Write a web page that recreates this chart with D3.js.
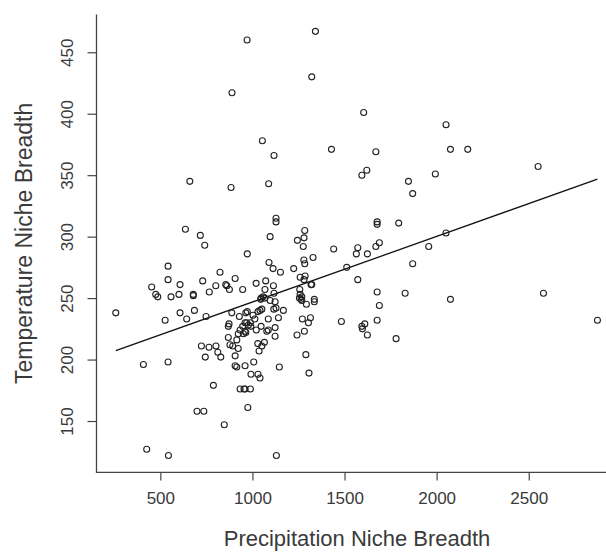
<!DOCTYPE html>
<html>
<head>
<meta charset="utf-8">
<script src="https://cdn.jsdelivr.net/npm/d3@7"></script>
<style>
  html, body { margin: 0; padding: 0; background: #fff; }
  svg { display: block; font-family: Arial, "Liberation Sans", sans-serif; }
</style>
</head>
<body>
<div id="chart"></div>
<script>
// niche breadth scatter, R base-graphics look

var precip = [971, 1342, 1322, 889, 1604, 1054, 1117, 1429, 1670, 1621,
	1594, 2051, 2075, 2169, 2551, 1993, 1847, 1870, 1677, 1677,
	1794, 660, 884, 1088, 636, 717, 741, 1128, 1128, 1096,
	1284, 1244, 1280, 1276, 972, 1329, 1279, 1284, 1090, 1112,
	1152, 1224, 1259, 1286, 1280, 1322, 1441, 1572, 1564, 1624,
	1670, 1689, 1957, 2051, 1512, 1870, 1572, 1829, 2075, 2580,
	2873, 1780, 1677, 1689, 1677, 1483, 1610, 1594, 1597, 1624,
	1290, 1307, 1318, 1336, 1293, 1315, 1304, 1282, 1264, 1255,
	1268, 1271, 1242, 1146, 1045, 1068, 1096, 1123, 1128, 1168,
	1116, 1141, 1086, 1123, 1123, 1086, 1078, 1047, 1021, 991,
	1013, 960, 972, 1041, 1051, 1030, 1003, 989, 960, 1029,
	1036, 1065, 1051, 1007, 960, 992, 1030, 1041, 989, 960,
	975, 258, 408, 542, 526, 607, 643, 685, 748, 723,
	764, 802, 812, 828, 744, 788, 699, 736, 847, 906,
	915, 906, 933, 954, 869, 878, 893, 873, 869, 923,
	915, 923, 933, 947, 951, 969, 964, 888, 929, 964,
	978, 542, 542, 607, 730, 824, 906, 855, 861, 801,
	947, 453, 475, 486, 558, 601, 679, 679, 766, 875,
	1020, 1072, 1068, 1114, 1117, 1047, 1058, 1257, 1259, 1268,
	1336, 1130, 544, 426];

var temp = [460, 467, 430, 417, 401, 378, 366, 371, 369, 354,
	350, 391, 371, 371, 357, 351, 345, 335, 312, 310,
	311, 345, 340, 343, 306, 301, 293, 315, 312, 300,
	305, 297, 299, 292, 286, 283, 281, 278, 279, 274,
	271, 274, 267, 268, 265, 261, 290, 291, 286, 286,
	292, 295, 292, 303, 275, 278, 265, 254, 249, 254,
	232, 217, 255, 244, 232, 231, 229, 227, 225, 220,
	204, 189, 261, 247, 245, 234, 230, 223, 249, 250,
	248, 233, 220, 194, 249, 250, 248, 247, 242, 240,
	241, 234, 233, 226, 219, 224, 223, 227, 224, 227,
	233, 230, 239, 240, 241, 239, 236, 230, 223, 213,
	207, 214, 211, 198, 195, 188, 188, 185, 176, 176,
	161, 238, 196, 198, 232, 238, 233, 240, 235, 211,
	210, 211, 206, 202, 202, 179, 158, 158, 147, 195,
	194, 203, 176, 176, 218, 212, 211, 229, 227, 209,
	216, 221, 224, 227, 221, 230, 222, 238, 235, 238,
	228, 276, 265, 261, 264, 271, 266, 261, 260, 260,
	257, 259, 253, 251, 251, 253, 253, 252, 255, 257,
	262, 264, 257, 260, 254, 250, 251, 257, 253, 251,
	249, 122, 122, 127];

var xTicks = [500, 1000, 1500, 2000, 2500];
var yTicks = [150, 200, 250, 300, 350, 400, 450];

// fitted line: temp = a + b * precip
var fitIntercept = 193.4;
var fitSlope = 0.0534;

var xTitle = "Precipitation Niche Breadth";
var yTitle = "Temperature Niche Breadth";

var width = 606, height = 553;
var plot = {left: 96.5, right: 616.7, top: 14.4, bottom: 472.4};
var textColor = "#3a3a3a";
var axisColor = "#444";

var points = precip.map(function(p, i) { return {x: p, y: temp[i]}; });

// R pads the data range by 4% on each side
function padded(ext) {
	var d = (ext[1] - ext[0]) * 0.04;
	return [ext[0] - d, ext[1] + d];
}

var x = d3.scaleLinear()
	.domain(padded(d3.extent(precip)))
	.range([plot.left, plot.right]);
var y = d3.scaleLinear()
	.domain(padded(d3.extent(temp)))
	.range([plot.bottom, plot.top]);

var svg = d3.select("#chart").append("svg")
	.attr("width", width)
	.attr("height", height);

// L-shaped frame
svg.append("path")
	.attr("d", "M" + plot.left + "," + plot.top + "V" + plot.bottom + "H" + plot.right)
	.attr("fill", "none")
	.attr("stroke", axisColor)
	.attr("stroke-width", 1.3);

var xAxis = svg.append("g")
	.attr("transform", "translate(0," + plot.bottom + ")")
	.call(d3.axisBottom(x).tickValues(xTicks).tickSize(8).tickPadding(12).tickFormat(d3.format("d")));
xAxis.select(".domain").remove();
xAxis.selectAll("line").attr("stroke", axisColor).attr("stroke-width", 1.2);
xAxis.selectAll("text")
	.attr("fill", textColor)
	.style("font-size", "17px")
	.style("font-family", "Arial, 'Liberation Sans', sans-serif");

var yAxis = svg.append("g")
	.attr("transform", "translate(" + plot.left + ",0)")
	.call(d3.axisLeft(y).tickValues(yTicks).tickSize(9).tickFormat(d3.format("d")));
yAxis.select(".domain").remove();
yAxis.selectAll("line").attr("stroke", axisColor).attr("stroke-width", 1.2);
yAxis.selectAll("text")
	.attr("fill", textColor)
	.attr("x", null).attr("dy", null)
	.attr("text-anchor", "middle")
	.attr("transform", "translate(-24,0) rotate(-90)")
	.style("font-size", "17px")
	.style("font-family", "Arial, 'Liberation Sans', sans-serif");

// regression line over the observed range
var xr = d3.extent(precip);
svg.append("line")
	.attr("x1", x(xr[0])).attr("y1", y(fitIntercept + fitSlope * xr[0]))
	.attr("x2", x(xr[1])).attr("y2", y(fitIntercept + fitSlope * xr[1]))
	.attr("stroke", "#111")
	.attr("stroke-width", 1.3);

svg.append("g").selectAll("circle")
	.data(points)
	.enter().append("circle")
	.attr("cx", function(d) { return x(d.x); })
	.attr("cy", function(d) { return y(d.y); })
	.attr("r", 3)
	.attr("fill", "none")
	.attr("stroke", "#222")
	.attr("stroke-width", 1.1);

svg.append("text")
	.attr("x", 357)
	.attr("y", 546)
	.attr("text-anchor", "middle")
	.attr("fill", textColor)
	.style("font-size", "22px")
	.text(xTitle);

svg.append("text")
	.attr("transform", "translate(32," + (plot.top + plot.bottom) / 2 + ") rotate(-90)")
	.attr("text-anchor", "middle")
	.attr("fill", textColor)
	.style("font-size", "23px")
	.text(yTitle);
</script>
</body>
</html>
